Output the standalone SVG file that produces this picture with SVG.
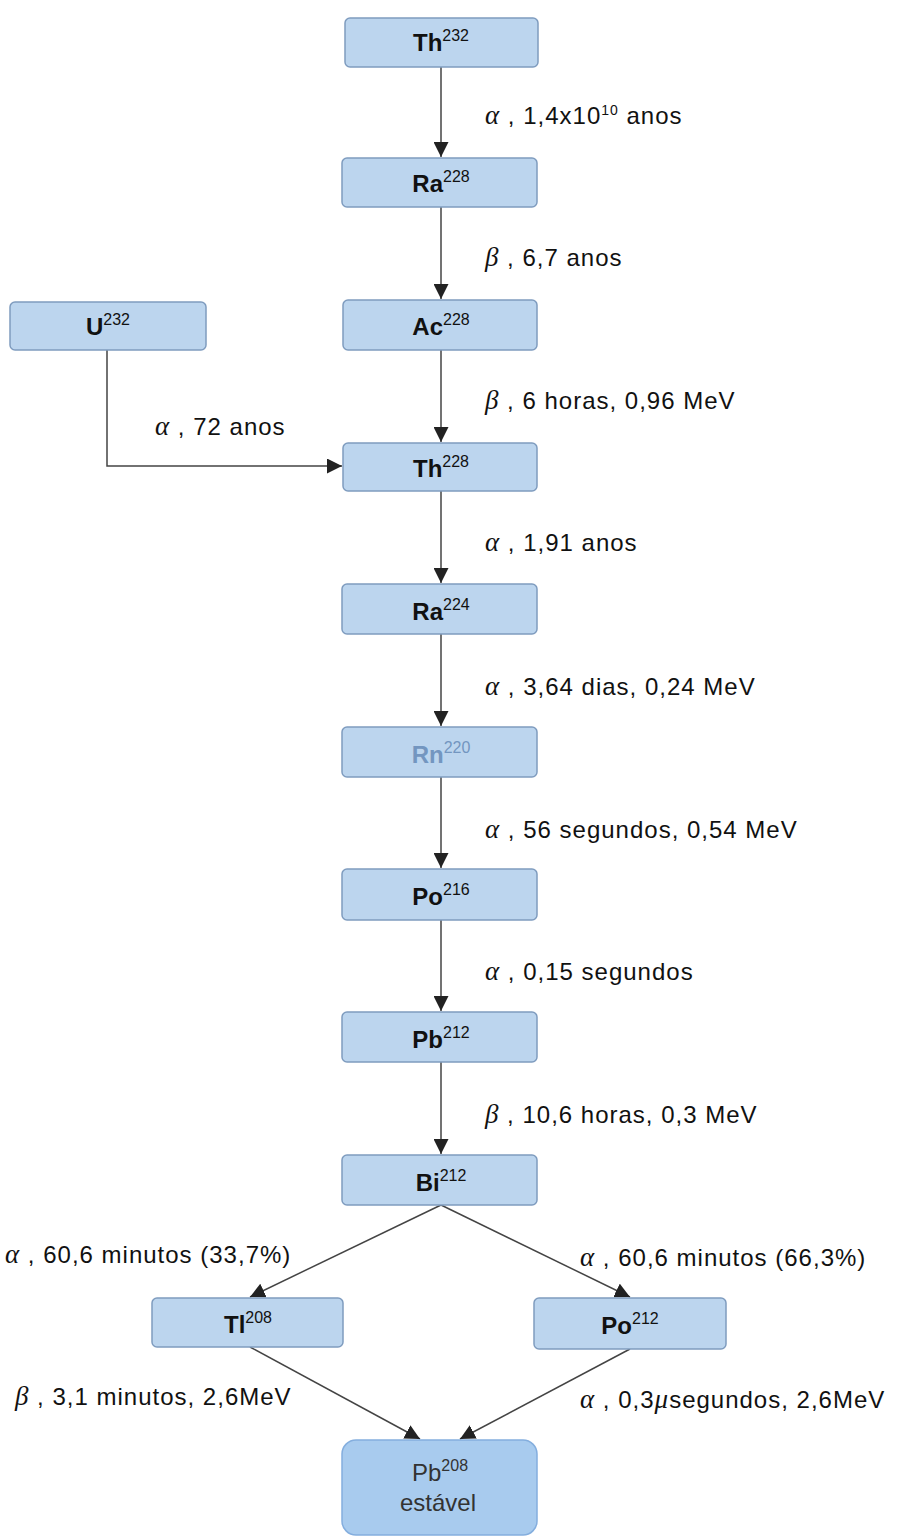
<svg xmlns="http://www.w3.org/2000/svg" width="902" height="1538" viewBox="0 0 902 1538">
<style>
.box{fill:#bcd5ee;stroke:#7f9cbf;stroke-width:1.5}
.nl{font-family:"Liberation Sans",Arial,sans-serif;font-size:24px;font-weight:bold;fill:#111;text-anchor:middle}
.sup{font-size:16px;font-weight:normal}
.lbl{font-family:"Liberation Sans",Arial,sans-serif;font-size:24px;letter-spacing:1px;fill:#111}
.gr{font-family:"Liberation Serif","Times New Roman",serif;font-style:italic;font-size:27px}
.ln{stroke:#444;stroke-width:1.5;fill:none}
</style>
<defs>
<marker id="ah" viewBox="0 0 10 10" refX="10" refY="5" markerWidth="15" markerHeight="15" markerUnits="userSpaceOnUse" orient="auto">
<path d="M0,0 L10,5 L0,10 z" fill="#222"/>
</marker>
</defs>
<rect width="902" height="1538" fill="#ffffff"/>
<g id="connectors">
<line class="ln" x1="441" y1="67" x2="441" y2="157" marker-end="url(#ah)"/>
<line class="ln" x1="441" y1="207" x2="441" y2="299" marker-end="url(#ah)"/>
<line class="ln" x1="441" y1="350" x2="441" y2="442" marker-end="url(#ah)"/>
<line class="ln" x1="441" y1="491" x2="441" y2="583" marker-end="url(#ah)"/>
<line class="ln" x1="441" y1="634" x2="441" y2="726" marker-end="url(#ah)"/>
<line class="ln" x1="441" y1="777" x2="441" y2="868" marker-end="url(#ah)"/>
<line class="ln" x1="441" y1="920" x2="441" y2="1011" marker-end="url(#ah)"/>
<line class="ln" x1="441" y1="1062" x2="441" y2="1154" marker-end="url(#ah)"/>
<polyline class="ln" points="107,350 107,466 342,466" marker-end="url(#ah)"/>
<line class="ln" x1="441" y1="1205" x2="250" y2="1297" marker-end="url(#ah)"/>
<line class="ln" x1="441" y1="1205" x2="630" y2="1297" marker-end="url(#ah)"/>
<line class="ln" x1="250" y1="1347" x2="420" y2="1439" marker-end="url(#ah)"/>
<line class="ln" x1="630" y1="1349" x2="460" y2="1439" marker-end="url(#ah)"/>
</g>
<g id="n-th232"><rect class="box" x="345" y="18" width="193" height="49" rx="5"/><text class="nl" x="441" y="51">Th<tspan class="sup" dy="-10">232</tspan></text></g>
<g id="n-ra228"><rect class="box" x="342" y="158" width="195" height="49" rx="5"/><text class="nl" x="441" y="192">Ra<tspan class="sup" dy="-10">228</tspan></text></g>
<g id="n-u232"><rect class="box" x="10" y="302" width="196" height="48" rx="5"/><text class="nl" x="108" y="335">U<tspan class="sup" dy="-10">232</tspan></text></g>
<g id="n-ac228"><rect class="box" x="343" y="300" width="194" height="50" rx="5"/><text class="nl" x="441" y="335">Ac<tspan class="sup" dy="-10">228</tspan></text></g>
<g id="n-th228"><rect class="box" x="343" y="443" width="194" height="48" rx="5"/><text class="nl" x="441" y="477">Th<tspan class="sup" dy="-10">228</tspan></text></g>
<g id="n-ra224"><rect class="box" x="342" y="584" width="195" height="50" rx="5"/><text class="nl" x="441" y="620">Ra<tspan class="sup" dy="-10">224</tspan></text></g>
<g id="n-rn220"><rect class="box" x="342" y="727" width="195" height="50" rx="5"/><text class="nl" x="441" y="763" style="fill:#7396c0">Rn<tspan class="sup" dy="-10">220</tspan></text></g>
<g id="n-po216"><rect class="box" x="342" y="869" width="195" height="51" rx="5"/><text class="nl" x="441" y="905">Po<tspan class="sup" dy="-10">216</tspan></text></g>
<g id="n-pb212"><rect class="box" x="342" y="1012" width="195" height="50" rx="5"/><text class="nl" x="441" y="1048">Pb<tspan class="sup" dy="-10">212</tspan></text></g>
<g id="n-bi212"><rect class="box" x="342" y="1155" width="195" height="50" rx="5"/><text class="nl" x="441" y="1191">Bi<tspan class="sup" dy="-10">212</tspan></text></g>
<g id="n-tl208"><rect class="box" x="152" y="1298" width="191" height="49" rx="5"/><text class="nl" x="248" y="1333">Tl<tspan class="sup" dy="-10">208</tspan></text></g>
<g id="n-po212"><rect class="box" x="534" y="1298" width="192" height="51" rx="5"/><text class="nl" x="630" y="1334">Po<tspan class="sup" dy="-10">212</tspan></text></g>
<g id="n-pb208"><rect x="342" y="1440" width="195" height="95" rx="14" fill="#a8cbee" stroke="#84aede" stroke-width="1.5"/><text class="nl" x="440" y="1481" style="font-weight:normal;fill:#333">Pb<tspan class="sup" dy="-10">208</tspan></text><text class="nl" x="438" y="1511" style="font-weight:normal;fill:#333">estável</text></g>
<g id="labels">
<text class="lbl" x="485" y="124"><tspan class="gr">α</tspan> , 1,4x10<tspan font-size="14" dy="-9">10</tspan><tspan dy="9"> anos</tspan></text>
<text class="lbl" x="485" y="266"><tspan class="gr">β</tspan> , 6,7 anos</text>
<text class="lbl" x="485" y="409"><tspan class="gr">β</tspan> , 6 horas, 0,96 MeV</text>
<text class="lbl" x="155" y="435"><tspan class="gr">α</tspan> , 72 anos</text>
<text class="lbl" x="485" y="551"><tspan class="gr">α</tspan> , 1,91 anos</text>
<text class="lbl" x="485" y="695"><tspan class="gr">α</tspan> , 3,64 dias, 0,24 MeV</text>
<text class="lbl" x="485" y="838"><tspan class="gr">α</tspan> , 56 segundos, 0,54 MeV</text>
<text class="lbl" x="485" y="980"><tspan class="gr">α</tspan> , 0,15 segundos</text>
<text class="lbl" x="485" y="1123"><tspan class="gr">β</tspan> , 10,6 horas, 0,3 MeV</text>
<text class="lbl" x="5" y="1263"><tspan class="gr">α</tspan> , 60,6 minutos (33,7%)</text>
<text class="lbl" x="580" y="1266"><tspan class="gr">α</tspan> , 60,6 minutos (66,3%)</text>
<text class="lbl" x="15" y="1405"><tspan class="gr">β</tspan> , 3,1 minutos, 2,6MeV</text>
<text class="lbl" x="580" y="1408"><tspan class="gr">α</tspan> , 0,3<tspan class="gr">μ</tspan>segundos, 2,6MeV</text>
</g>
</svg>
